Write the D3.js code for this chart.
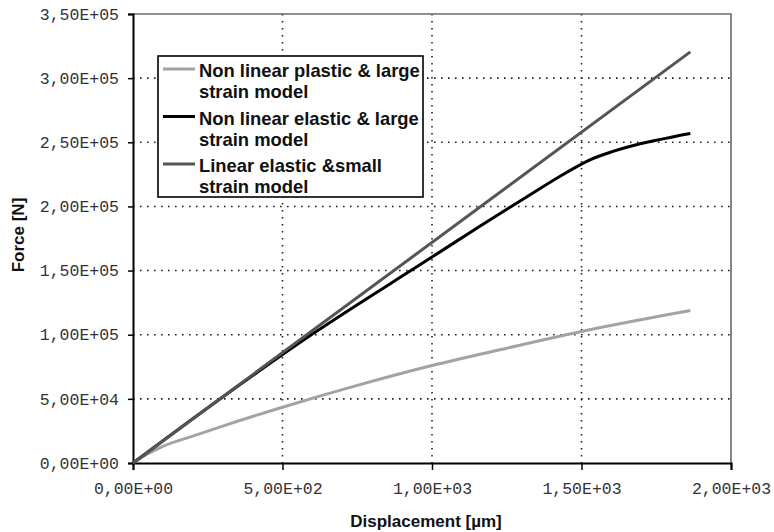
<!DOCTYPE html>
<meta charset="utf-8">
<style type="text/css">

body { margin: 0; background: #fff; }

.tick text {
    font-family: "Liberation Mono", "Courier New", monospace;
    font-size: 16.5px;
    fill: #333;
}

.grid line {
    stroke: #222;
    stroke-width: 1.6;
    stroke-dasharray: 1.6,5.4;
}

.line {
    fill: none;
    stroke-width: 3;
    stroke-linejoin: round;
}

.title {
    font-family: "Liberation Sans", Arial, sans-serif;
    font-weight: bold;
    font-size: 17px;
    fill: #111;
}

.legend text {
    font-family: "Liberation Sans", Arial, sans-serif;
    font-weight: bold;
    font-size: 18.4px;
    fill: #111;
}

</style>
<body>
</body>

<script src="https://d3js.org/d3.v7.min.js"></script>
<script>

// displacement [um] / force [N]
var plasticX = [0, 50, 100, 200, 300, 500, 750, 1000, 1250, 1500, 1864];
var plasticY = [0, 7200, 13000, 21000, 28800, 43500, 60500, 76000, 89500, 102500, 118800];

var elasticX = [0, 300, 600, 1000, 1160, 1300, 1450, 1530, 1600, 1700, 1800, 1864];
var elasticY = [0, 51500, 100500, 160500, 184600, 205000, 226500, 236500, 242500, 249000, 254000, 256800];

var linearX = [0, 1864];
var linearY = [0, 320500];

var seriesNames = ["Non linear plastic & large|strain model",
                   "Non linear elastic & large|strain model",
                   "Linear elastic &small|strain model"];
var seriesColors = ["#a3a3a3", "#000000", "#555555"];

var xTicks = [0, 500, 1000, 1500, 2000];
var xTickLabels = ["0,00E+00", "5,00E+02", "1,00E+03", "1,50E+03", "2,00E+03"];
var yTicks = [0, 50000, 100000, 150000, 200000, 250000, 300000, 350000];
var yTickLabels = ["0,00E+00", "5,00E+04", "1,00E+05", "1,50E+05", "2,00E+05", "2,50E+05", "3,00E+05", "3,50E+05"];

var margin = {top: 14, left: 133}
  , width = 598
  , height = 449;

var xScale = d3.scaleLinear()
    .domain([0, 2000])
    .range([0, width]);

var yScale = d3.scaleLinear()
    .domain([0, 350000])
    .range([height, 0]);

var svg = d3.select("body").append("svg")
    .attr("width", 774)
    .attr("height", 532)
  .append("g")
    .attr("transform", "translate(" + margin.left + "," + margin.top + ")");

// dotted grid
svg.append("g")
    .attr("class", "grid")
  .selectAll("line")
    .data(yTicks.slice(1, -1))
  .enter().append("line")
    .attr("x1", 0)
    .attr("x2", width)
    .attr("y1", function(d) { return yScale(d); })
    .attr("y2", function(d) { return yScale(d); });

svg.append("g")
    .attr("class", "grid")
  .selectAll("line")
    .data(xTicks.slice(1, -1))
  .enter().append("line")
    .attr("y1", 0)
    .attr("y2", height)
    .attr("x1", function(d) { return xScale(d); })
    .attr("x2", function(d) { return xScale(d); });

// top and right frame
svg.append("path")
    .attr("d", "M0,0H" + width + "V" + height)
    .attr("fill", "none")
    .attr("stroke", "#6a6a6a")
    .attr("stroke-width", 1.6);

svg.append("g")
    .attr("transform", "translate(0," + height + ")")
    .call(d3.axisBottom(xScale)
        .tickValues(xTicks)
        .tickFormat(function(d, i) { return xTickLabels[i]; })
        .tickSize(7)
        .tickPadding(12));

svg.append("g")
    .call(d3.axisLeft(yScale)
        .tickValues(yTicks)
        .tickFormat(function(d, i) { return yTickLabels[i]; })
        .tickSize(5)
        .tickPadding(9));

svg.selectAll(".domain").attr("stroke", "#000").attr("stroke-width", 2);
svg.selectAll(".tick line").attr("stroke", "#000").attr("stroke-width", 1.5);

var line = d3.line()
    .x(function(d) { return xScale(d[0]); })
    .y(function(d) { return yScale(d[1]); })
    .curve(d3.curveMonotoneX);

var data = [d3.zip(plasticX, plasticY), d3.zip(elasticX, elasticY), d3.zip(linearX, linearY)];

svg.selectAll(".line")
    .data(data)
  .enter().append("path")
    .attr("class", "line")
    .attr("stroke", function(d, i) { return seriesColors[i]; })
    .attr("d", line);

// axis titles
svg.append("text")
    .attr("class", "title")
    .attr("x", width / 2 - 6)
    .attr("y", 513)
    .attr("text-anchor", "middle")
    .text("Displacement [\u00b5m]");

svg.append("text")
    .attr("class", "title")
    .attr("transform", "translate(-109," + (235 - margin.top) + ") rotate(-90)")
    .attr("text-anchor", "middle")
    .text("Force [N]");

// legend
var legend = svg.append("g")
    .attr("class", "legend")
    .attr("transform", "translate(25,42)");

legend.append("rect")
    .attr("width", 265)
    .attr("height", 141)
    .attr("fill", "#fff")
    .attr("stroke", "#000")
    .attr("stroke-width", 1.6);

var item = legend.selectAll(".item")
    .data(seriesNames)
  .enter().append("g")
    .attr("class", "item")
    .attr("transform", function(d, i) { return "translate(0," + (i * 47.5) + ")"; });

item.append("line")
    .attr("x1", 5)
    .attr("x2", 37)
    .attr("y1", 13)
    .attr("y2", 13)
    .attr("stroke", function(d, i) { return seriesColors[i]; })
    .attr("stroke-width", 3);

item.append("text")
    .attr("x", 41)
    .attr("y", 21)
  .selectAll("tspan")
    .data(function(d) { return d.split("|"); })
  .enter().append("tspan")
    .attr("x", 41)
    .attr("dy", function(d, i) { return i ? 21 : 0; })
    .text(function(d) { return d; });

</script>
